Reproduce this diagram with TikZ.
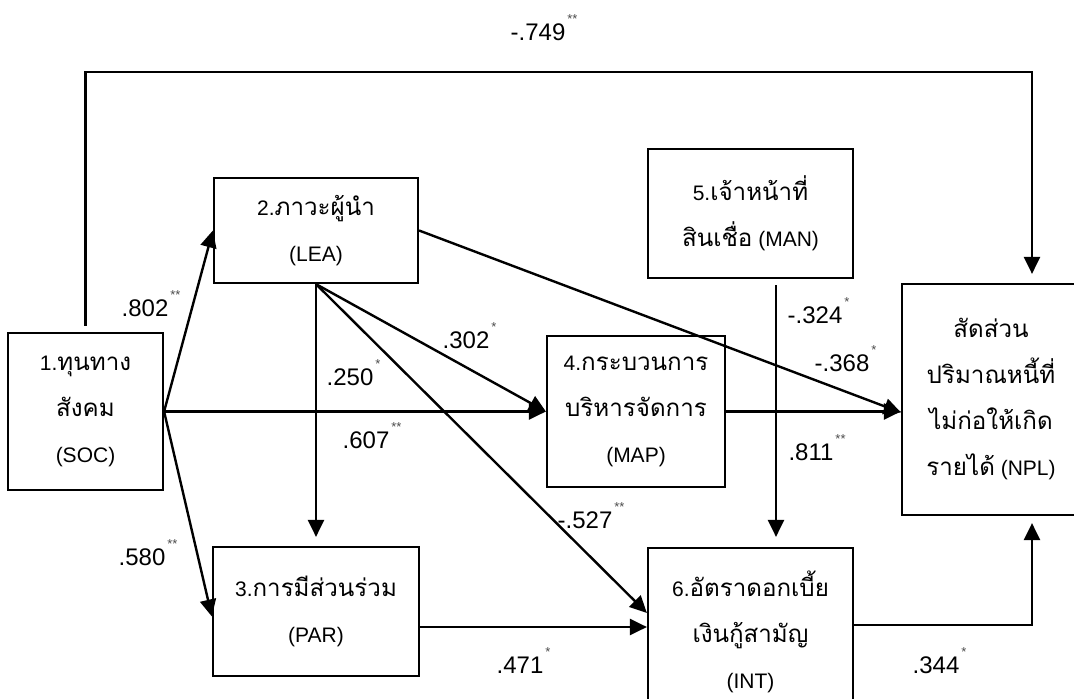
\documentclass[tikz,border=0pt]{standalone}
\usepackage{fontspec}
\setmainfont{Liberation Sans}
\newfontfamily\thai[Script=Thai,Scale=1.15]{Loma}
\usetikzlibrary{arrows.meta}
\newcommand\sigmark[1]{\rlap{\hspace{2pt}\smash{\raisebox{17pt}{\fontsize{13}{13}\selectfont\color{black!70}#1}}}}
\newcommand\boxfont{\fontsize{21}{46}\selectfont}
\newcommand\numfont{\fontsize{24}{28}\selectfont}
\begin{document}
\begin{tikzpicture}[x=1pt,y=-1pt,
  box/.style={draw, line width=2.2pt, inner sep=0pt, align=center, font=\boxfont},
  conn/.style={line width=2.4pt, -{Triangle[length=17pt,width=16pt]}},
  num/.style={font=\numfont, inner sep=0pt}]
\useasboundingbox (0,0) rectangle (1074,699);
% boxes
\node[box, minimum width=155pt, minimum height=157pt] (SOC) at (85.5,411.5)
  {1.{\thai ทุนทาง}\\{\thai สังคม}\\(SOC)};
\node[box, minimum width=204pt, minimum height=105pt] (LEA) at (316,230.5)
  {2.{\thai ภาวะผู้นำ}\\(LEA)};
\node[box, minimum width=205pt, minimum height=129pt] (MAN) at (750.5,213.5)
  {5.{\thai เจ้าหน้าที่}\\{\thai สินเชื่อ} (MAN)};
\node[box, minimum width=178pt, minimum height=151pt] (MAP) at (636,411.5)
  {4.{\thai กระบวนการ}\\{\thai บริหารจัดการ}\\(MAP)};
\node[box, minimum width=178pt, minimum height=231pt] (NPL) at (991,399.5)
  {{\thai สัดส่วน}\\{\thai ปริมาณหนี้ที่}\\{\thai ไม่ก่อให้เกิด}\\{\thai รายได้} (NPL)};
\node[box, minimum width=206pt, minimum height=129pt] (PAR) at (316,611.5)
  {3.{\thai การมีส่วนร่วม}\\(PAR)};
\node[box, minimum width=205pt, minimum height=168pt] (INT) at (750.5,632)
  {6.{\thai อัตราดอกเบี้ย}\\{\thai เงินกู้สามัญ}\\(INT)};
% helper coordinates
\coordinate (topy) at (0,72);
\coordinate (tl) at (SOC.north |- topy);
\coordinate (tr) at (1032,72);
\coordinate (m1) at ([xshift=25.5pt]MAN.south);
\coordinate (p1) at ([yshift=-15.5pt]PAR.east);
\coordinate (i1) at ([yshift=7pt]INT.east);
% connectors
\draw[conn, shorten <=6pt, shorten >=9pt] (SOC.north) -- (tl) -- (tr) -- (tr |- NPL.north);
\draw[conn] (SOC.east) -- (LEA.west);
\draw[conn] (SOC.east) -- (MAP.west);
\draw[conn] (SOC.east) -- ([yshift=-5pt]PAR.west);
\draw[conn, shorten >=9pt] (LEA.south) -- (PAR.north);
\draw[conn] (LEA.south) -- (MAP.west);
\draw[conn] (LEA.south) -- ([yshift=19pt]INT.west);
\draw[conn] (LEA.east) -- ([yshift=-13pt]NPL.west);
\draw[conn] (MAP.east) -- (MAP.east -| NPL.west);
\draw[conn, shorten <=6pt, shorten >=10pt] (m1) -- (m1 |- INT.north);
\draw[conn] (p1) -- (p1 -| INT.west);
\draw[conn, shorten >=7pt] (i1) -| (tr |- NPL.south);
% labels
\node[num] (l749) at (538,32) {-.749\sigmark{**}};
\node[num] (l802) at (145,308) {.802\sigmark{**}};
\node[num] (l250) at (350,377) {.250\sigmark{*}};
\node[num] (l302) at (466,340) {.302\sigmark{*}};
\node[num] (l607) at (366,440) {.607\sigmark{**}};
\node[num] (l580) at (142,557) {.580\sigmark{**}};
\node[num] (l527) at (585,520) {-.527\sigmark{**}};
\node[num] (l324) at (815,315) {-.324\sigmark{*}};
\node[num] (l368) at (842,363) {-.368\sigmark{*}};
\node[num] (l811) at (811,452) {.811\sigmark{**}};
\node[num] (l471) at (520,665) {.471\sigmark{*}};
\node[num] (l344) at (936,665) {.344\sigmark{*}};
\end{tikzpicture}
\end{document}
